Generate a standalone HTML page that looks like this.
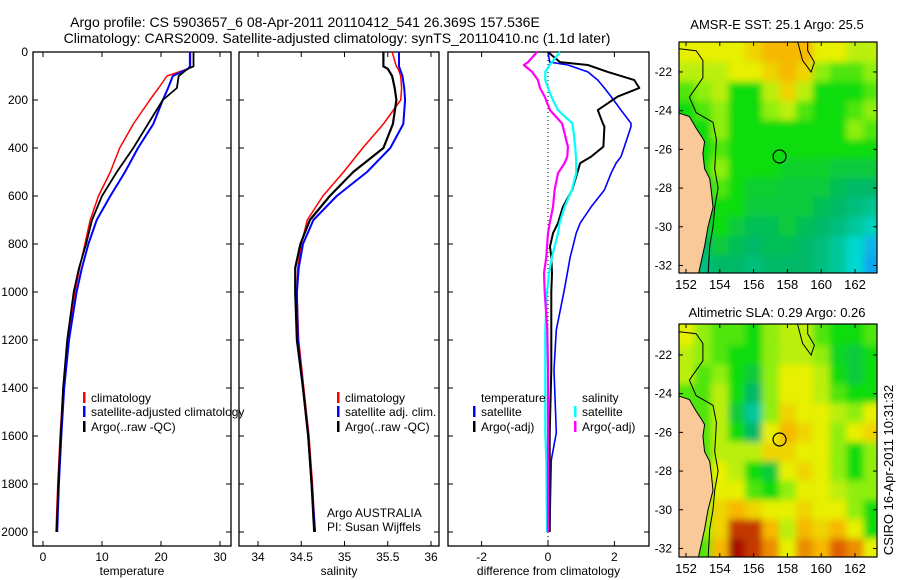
<!DOCTYPE html>
<html><head><meta charset="utf-8"><style>
html,body{margin:0;padding:0;background:#fff;}
svg{display:block;font-family:"Liberation Sans",sans-serif;}
text{fill:#000;}
</style></head><body>
<svg id="fig" width="900" height="580" viewBox="0 0 900 580">
<defs>
<filter id="blur" x="-5%" y="-5%" width="110%" height="110%"><feGaussianBlur stdDeviation="3.5"/></filter>
<clipPath id="clipTop"><rect x="679" y="42" width="198" height="231"/></clipPath>
<clipPath id="clipBot"><rect x="679" y="324" width="198" height="233"/></clipPath>
</defs>
<rect width="900" height="580" fill="#fff"/>
<text x="305" y="27" font-size="14" text-anchor="middle">Argo profile: CS 5903657_6 08-Apr-2011 20110412_541 26.369S 157.536E</text>
<text x="337" y="43" font-size="14" text-anchor="middle">Climatology: CARS2009. Satellite-adjusted climatology: synTS_20110410.nc (1.1d later)</text>
<g id="plots"></g>
<text x="777" y="29" font-size="13" text-anchor="middle">AMSR-E SST: 25.1 Argo: 25.5</text>
<text x="777" y="317" font-size="13" text-anchor="middle">Altimetric SLA: 0.29 Argo: 0.26</text>
<text x="0" y="0" font-size="13" text-anchor="middle" transform="translate(893,470) rotate(-90)">CSIRO 16-Apr-2011 10:31:32</text>
</svg>
<script>
// ---- profile data ----
const depths = [0,60,70,100,150,200,300,400,500,600,700,800,900,1000,1200,1400,1600,1800,2000];
const tempClim = [25.0,25.0,24.6,21.0,19.6,18.1,15.3,13.0,11.4,9.4,8.0,7.1,6.2,5.4,4.2,3.4,2.9,2.5,2.2];
const tempSat  = [24.9,24.9,24.6,22.0,21.2,20.3,18.7,16.1,13.9,11.4,9.1,7.7,6.6,5.7,4.4,3.6,3.1,2.7,2.4];
const tempArgo = [25.5,25.5,24.5,23.0,22.7,20.3,17.8,15.3,12.5,10.0,8.3,7.3,6.1,5.2,4.1,3.4,3.0,2.6,2.3];
const salClim = [35.55,35.6,35.62,35.65,35.66,35.65,35.45,35.21,34.99,34.75,34.57,34.50,34.46,34.45,34.47,34.53,34.59,34.63,34.66];
const salSat  = [35.63,35.63,35.64,35.67,35.69,35.70,35.68,35.53,35.26,34.91,34.64,34.52,34.47,34.45,34.46,34.52,34.58,34.62,34.66];
const salArgo = [35.45,35.45,35.50,35.55,35.58,35.60,35.56,35.45,35.10,34.83,34.60,34.49,34.43,34.43,34.45,34.52,34.58,34.62,34.65];
const diffDepths = [0,42,54,83,117,150,186,242,297,311,394,436,463,505,575,645,713,755,811,854,922,1000,1158,1325,1587,1700,2000];
const diffTempSat  = [0,0.05,0.6,1.2,1.5,1.7,1.9,2.2,2.5,2.5,2.3,2.2,2.05,1.9,1.7,1.3,0.97,0.85,0.75,0.67,0.58,0.48,0.25,0.18,0.25,0.1,0.05];
const diffTempArgo = [0,0.36,1.2,1.8,2.6,2.75,2.1,1.5,1.65,1.7,1.67,1.3,0.97,0.88,0.73,0.45,0.3,0.15,0.06,0.1,0.12,0.1,0.1,0.1,0.05,0.05,0.05];
const diffSalSat  = [0.36,0.12,0.05,-0.08,-0.08,0.0,0.1,0.3,0.73,0.75,0.82,0.84,0.85,0.85,0.72,0.5,0.35,0.3,0.2,0.12,0.03,-0.03,-0.08,-0.08,-0.08,-0.05,-0.03];
const diffSalArgo = [-0.33,-0.6,-0.73,-0.48,-0.3,-0.24,-0.1,0.06,0.42,0.45,0.6,0.58,0.5,0.3,0.2,0.15,0.05,0.0,-0.03,-0.05,-0.12,-0.1,-0.02,0.0,0.0,0.0,0.0];
const depthTicks = [0,200,400,600,800,1000,1200,1400,1600,1800,2000];
const tempTicks = [0,10,20,30];
const salTicks = [34,34.5,35,35.5,36];
const diffTicks = [-2,0,2];
// ---- map data (rows lat -21..-32, cols lon 152..163); null = land ----
const mapLats = [-21,-22,-23,-24,-25,-26,-27,-28,-29,-30,-31,-32];
const mapLons = [152,153,154,155,156,157,158,159,160,161,162,163];
const sstGrid = [
[5,5,5,5,5.5,6,6,6,5,5,4.5,4.5],
[4.5,4.5,4.5,5,5,5.5,6,5.5,4,3.5,3.5,4],
[3.5,4,4.5,3,3,4.5,5.5,4.5,3,3,3,3.5],
[3,3.5,4,3,3,4,4.5,3.5,3,3,3.5,4],
[null,3,4,3,3,3,3,3,3,3,4,3.5],
[null,3,3.5,3,3,3,3,3,3,3,3,3],
[null,3,4,3,3,3,2.7,2.7,2.7,2.5,2.5,2.5],
[null,2.5,3.5,3,2.6,2.6,2.5,2.5,2.5,2.2,2,2],
[null,2.5,3,3,2.5,2.5,2.5,2.5,2.2,2,1.8,1.6],
[null,2.5,3,2.5,2.2,2.2,2.5,2.2,2,1.8,1.5,1.2],
[null,2,2.5,2.2,2,2.2,2.2,2,1.8,1.5,1,0.5],
[null,1.8,2,2,1.8,2,2,2,1.8,1.5,1,0.3]];
const slaGrid = [
[5,4,3.5,3.5,3,4,4.5,4.5,3.5,3,3,3.5],
[4.5,4,3.5,3,3,4,4.5,4.5,4,2.8,2.5,3],
[4.5,3.5,4,3,2.5,4,5,5,4.5,3,2.5,3],
[null,3.5,4.5,3,2,4,5,5,4.5,3.5,3,3],
[null,3.5,4.5,2.5,1.5,4,5.5,5,5,4.5,4,5],
[null,3.5,4.5,3,2,5,6,5.5,5,4,5,5.5],
[null,3.5,4.5,4.5,4.5,5.5,5.5,5,5,4,3,4],
[null,3.5,5,4.5,3,2.5,5,5.5,5,4,3,4],
[null,3.5,5,5,3.5,3,4,5,5,4.5,4,4],
[null,4,5.5,6,5.5,5,5,5.5,5,5,4,3],
[null,4,5.5,7.5,7.5,6,4.5,6,5.5,6,5,3],
[null,3.5,6,8,7.5,6.5,5,6.5,6,7,6.5,5]];
const mapLatTicks = [-22,-24,-26,-28,-30,-32];
const mapLonTicks = [152,154,156,158,160,162];
const argoLon = 157.536, argoLat = -26.369;

const NS = 'http://www.w3.org/2000/svg';
const root = document.getElementById('plots');
function mk(tag, attrs, parent){const e=document.createElementNS(NS,tag);for(const k in attrs)e.setAttribute(k,attrs[k]);(parent||root).appendChild(e);return e;}
const yD = d => 52 + 0.24*d;
const PT = 52, PB = 546;
const panels = [
 {x0:33,x1:231,sx:v=>43+5.9*v,ticks:tempTicks,label:'temperature',name:'temperature-panel'},
 {x0:239,x1:439,sx:v=>258+86.5*(v-34),ticks:salTicks,label:'salinity',name:'salinity-panel'},
 {x0:448,x1:649,sx:v=>548+33.2*v,ticks:diffTicks,label:'difference from climatology',name:'difference-panel'}];
panels.forEach((p,i)=>{
  const g=mk('g',{});
  
  
  const fr=mk('rect',{x:p.x0,y:PT,width:p.x1-p.x0,height:PB-PT,fill:'none',stroke:'#000','stroke-width':1.3},g);
  
  
  depthTicks.forEach(d=>{
    mk('line',{x1:p.x0,x2:p.x0+5,y1:yD(d),y2:yD(d),stroke:'#000'},g);
    mk('line',{x1:p.x1,x2:p.x1-5,y1:yD(d),y2:yD(d),stroke:'#000'},g);
    if(i===0){const t=mk('text',{x:28,y:yD(d)+4,'font-size':12,'text-anchor':'end'},g);t.textContent=d;
      
      }
  });
  p.ticks.forEach(v=>{
    const x=p.sx(v);
    mk('line',{x1:x,x2:x,y1:PB,y2:PB-5,stroke:'#000'},g);
    mk('line',{x1:x,x2:x,y1:PT,y2:PT+5,stroke:'#000'},g);
    const t=mk('text',{x:x,y:PB+15,'font-size':12,'text-anchor':'middle'},g);t.textContent=v;
    
    
  });
  const xl=mk('text',{x:(p.x0+p.x1)/2,y:575,'font-size':12,'text-anchor':'middle'},g);xl.textContent=p.label;
  
  
});
function line(p,vals,ds,color,w,name){
  const pts=vals.map((v,k)=>p.sx(v).toFixed(1)+','+yD(ds[k]).toFixed(1)).join(' ');
  const l=mk('polyline',{points:pts,fill:'none',stroke:color,'stroke-width':w,'stroke-linejoin':'round'});
  
  
}
line(panels[0],tempClim,depths,'#f00',1.5,'temp-climatology-line');
line(panels[0],tempSat,depths,'#00f',2,'temp-satellite-line');
line(panels[0],tempArgo,depths,'#000',1.8,'temp-argo-line');
line(panels[1],salClim,depths,'#f00',1.5,'sal-climatology-line');
line(panels[1],salSat,depths,'#00f',2,'sal-satellite-line');
line(panels[1],salArgo,depths,'#000',2.2,'sal-argo-line');
const zl=mk('line',{x1:548,x2:548,y1:PT,y2:PB,stroke:'#000','stroke-dasharray':'1,3'});


line(panels[2],diffTempSat,diffDepths,'#00f',1.6,'diff-temp-satellite-line');
line(panels[2],diffTempArgo,diffDepths,'#000',2,'diff-temp-argo-line');
line(panels[2],diffSalSat,diffDepths,'#0ff',2.2,'diff-sal-satellite-line');
line(panels[2],diffSalArgo,diffDepths,'#f0f',2.2,'diff-sal-argo-line');
function legend(x,y,color,label,name){
  const g=mk('g',{});
  
  
  if(color) mk('rect',{x:x,y:y-10,width:2.5,height:11,fill:color},g);
  const t=mk('text',{x:x+8,y:y,'font-size':12},g);t.textContent=label;
}
legend(83,402,'#f00','climatology','legend-climatology');
legend(83,416,'#00f','satellite-adjusted climatology','legend-satellite-adjusted');
legend(83,431,'#000','Argo(..raw -QC)','legend-argo-raw');
legend(337,402,'#f00','climatology','legend-sal-climatology');
legend(337,416,'#00f','satellite adj. clim.','legend-sal-satellite');
legend(337,431,'#000','Argo(..raw -QC)','legend-sal-argo');
legend(473,402,null,'temperature','legend-temperature-header');
legend(473,416,'#00f','satellite','legend-diff-temp-satellite');
legend(473,431,'#000','Argo(-adj)','legend-diff-temp-argo');
legend(574,402,null,'salinity','legend-salinity-header');
legend(574,416,'#0ff','satellite','legend-diff-sal-satellite');
legend(574,431,'#f0f','Argo(-adj)','legend-diff-sal-argo');
const a1=mk('text',{x:327,y:517,'font-size':12});a1.textContent='Argo AUSTRALIA';


const a2=mk('text',{x:327,y:531,'font-size':12});a2.textContent='PI: Susan Wijffels';



// ---- maps ----
const stops=['#1090ff','#00d8d0','#00b868','#10dc10','#90ee10','#e8f000','#f8b800','#e06000','#a81000'];
function hex(c){return [1,3,5].map(i=>parseInt(c.substr(i,2),16));}
function cmap(v){v=Math.max(0,Math.min(8,v));const i=Math.min(7,Math.floor(v)),f=v-i;const a=hex(stops[i]),b=hex(stops[i+1]);
  return 'rgb('+a.map((c,k)=>Math.round(c+(b[k]-c)*f)).join(',')+')';}
const land=[[151.5,-24.1],[152.2,-24.3],[152.6,-24.9],[152.9,-25.3],[153.1,-25.6],[153.0,-26.2],[153.1,-27],[153.4,-27.5],[153.5,-28.2],[153.6,-29],[153.3,-30],[153.1,-31],[152.9,-31.8],[152.7,-32.6],[151.5,-32.6]];
const shelf=[[151.6,-20.8],[152.6,-20.9],[153.0,-21.4],[153.0,-22.3],[152.2,-23.3],[152.6,-24.1],[153.6,-24.6],[153.8,-25.5],[153.7,-27],[153.9,-28],[153.7,-29],[153.6,-30],[153.4,-31],[153.3,-32.6]];
const reef=[[158.6,-20.4],[158.9,-21.4],[159.4,-22.0],[159.6,-21.5],[159.2,-20.9],[159.2,-20.4]];
function drawMap(grid,y0,y1,clip,name){
  const lx=lon=>686+16.9*(lon-152);
  const ly=lat=>y0+(( -20.4) - lat)*19.35 + (y0===42?-1:0);
  const g=mk('g',{});
  
  
  const cg=mk('g',{'clip-path':'url(#'+clip+')'},g);
  const hg=mk('g',{filter:'url(#blur)'},cg);
  mk('rect',{x:670,y:y0-10,width:220,height:y1-y0+20,fill:cmap(3)},hg);
  grid.forEach((row,r)=>row.forEach((v,c)=>{
    let val=v; if(val===null) val=row[1];
    const x=lx(mapLons[c]-0.5)-(c===0?12:0), w=16.9+(c===0?12:0)+(c===11?12:0);
    const y=ly(mapLats[r]+0.5)-(r===0?12:0), h=19.35+(r===0?12:0)+(r===11?12:0);
    const cell=mk('rect',{x:x.toFixed(1),y:y.toFixed(1),width:w.toFixed(1),height:h.toFixed(1),fill:cmap(val)},hg);
    
    
  }));
  const pts=a=>a.map(p=>lx(p[0]).toFixed(1)+','+ly(p[1]).toFixed(1)).join(' ');
  const lp=mk('polygon',{points:pts(land),fill:'#f9c999',stroke:'#000','stroke-width':1},cg);
  
  
  mk('polyline',{points:pts(shelf),fill:'none',stroke:'#000','stroke-width':1},cg);
  mk('polyline',{points:pts(reef),fill:'none',stroke:'#000','stroke-width':1},cg);
  const ci=mk('circle',{cx:lx(argoLon),cy:ly(argoLat),r:6.5,fill:'none',stroke:'#000','stroke-width':1.2},g);
  
  
  mk('rect',{x:679,y:y0,width:198,height:y1-y0,fill:'none',stroke:'#000','stroke-width':1.2},g);
  mapLatTicks.forEach(lat=>{const y=ly(lat);
    mk('line',{x1:679,x2:683,y1:y,y2:y,stroke:'#000'},g);mk('line',{x1:877,x2:873,y1:y,y2:y,stroke:'#000'},g);
    const t=mk('text',{x:672,y:y+4,'font-size':12,'text-anchor':'end'},g);t.textContent=lat;
    
    });
  mapLonTicks.forEach(lon=>{const x=lx(lon);
    mk('line',{x1:x,x2:x,y1:y0,y2:y0+4,stroke:'#000'},g);mk('line',{x1:x,x2:x,y1:y1,y2:y1-4,stroke:'#000'},g);
    const t=mk('text',{x:x,y:y1+16,'font-size':13,'text-anchor':'middle'},g);t.textContent=lon;
    
    });
}
drawMap(sstGrid,42,273,'clipTop','sst-map');
drawMap(slaGrid,324,557,'clipBot','sla-map');
</script>
</body></html>
